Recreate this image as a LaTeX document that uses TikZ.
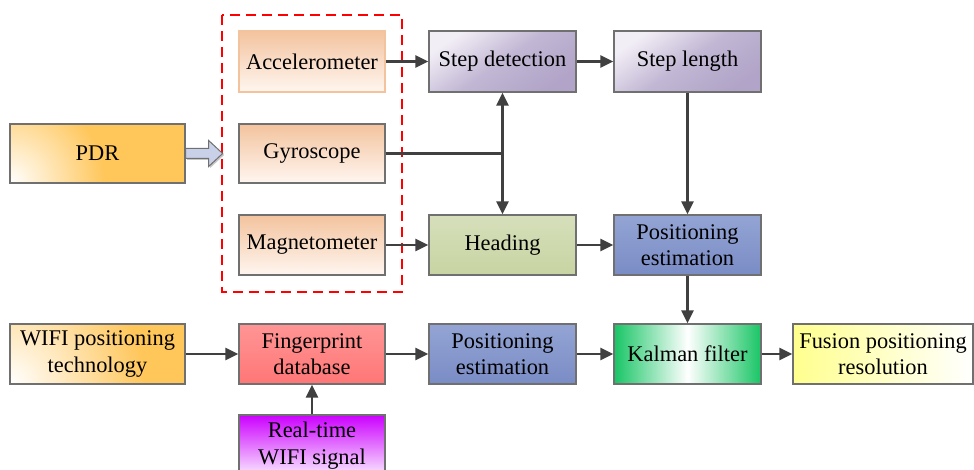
\documentclass[tikz,border=0pt]{standalone}
\usepackage{fontspec}
\setmainfont{Liberation Serif}
\usetikzlibrary{arrows.meta}
\definecolor{arr}{HTML}{404040}
\definecolor{bord}{HTML}{707070}
\definecolor{orng}{HTML}{FFC65A}
\definecolor{peach}{HTML}{F3C39E}
\definecolor{peachlt}{HTML}{FFF6F0}
\definecolor{lav}{HTML}{B1A4C8}
\definecolor{lavlt}{HTML}{F2EEF6}
\definecolor{olive}{HTML}{C8D4A2}
\definecolor{olivelt}{HTML}{D6DFBB}
\definecolor{blu}{HTML}{7A8CC5}
\definecolor{blult}{HTML}{93A4D4}
\definecolor{pinkd}{HTML}{FF7676}
\definecolor{pinkl}{HTML}{FF9595}
\definecolor{kgreen}{HTML}{18C565}
\definecolor{fyel}{HTML}{FFFF8E}
\definecolor{purp}{HTML}{CC00FF}
\definecolor{purplt}{HTML}{FAEBFF}
\definecolor{barrow}{HTML}{C9D1E8}
\tikzset{
  box/.style={draw=bord, line width=1.3pt, rectangle, inner sep=0pt, align=center,
    font=\fontsize{22.4}{26.5}\selectfont},
  cornerglow/.style={path picture={
    \fill[orng] (path picture bounding box.south west) rectangle (path picture bounding box.north east);
    \shade[inner color=white, outer color=orng] (path picture bounding box.south west) circle (#1);}},
  link/.style={draw=arr, line width=2.5pt, -{Triangle[length=13pt,width=12pt]}},
  plain/.style={draw=arr, line width=2.5pt},
}
\begin{document}
\begin{tikzpicture}[x=1pt,y=-1pt]
\useasboundingbox (0,0) rectangle (974,470);
\clip (0,0) rectangle (974,470);
\fill[white] (0,0) rectangle (974,470);

% dashed group
\draw[red, line width=2.6pt, dash pattern=on 10pt off 6pt] (222,15) rectangle (402,292);

% nodes
\node[box, minimum width=175pt, minimum height=59pt, cornerglow=95pt] (pdr) at (97.5,153.5) {PDR};
\node[box, draw=peach, minimum width=146pt, minimum height=61pt, top color=peach, bottom color=peachlt] (acc) at (312,61.5) {Accelerometer};
\node[box, minimum width=146pt, minimum height=59pt, top color=peach, bottom color=peachlt] (gyr) at (312,153.5) {Gyroscope};
\node[box, minimum width=146pt, minimum height=60pt, top color=peach, bottom color=peachlt] (mag) at (312,245) {Magnetometer};
\node[box, minimum width=147pt, minimum height=61pt, top color=lavlt, bottom color=lav, middle color=lav!75!lavlt, shading angle=35] (sd) at (502.5,61.5) {Step detection};
\node[box, minimum width=147pt, minimum height=61pt, top color=lavlt, bottom color=lav, middle color=lav!75!lavlt, shading angle=35] (sl) at (687.5,61.5) {Step length};
\node[box, minimum width=147pt, minimum height=60pt, top color=olivelt, bottom color=olive] (hd) at (502.5,245) {Heading};
\node[box, minimum width=147pt, minimum height=60pt, top color=blult, bottom color=blu] (pe1) at (687.5,245) {Positioning\\estimation};
\node[box, minimum width=175pt, minimum height=60pt, cornerglow=135pt] (wifi) at (97.5,354) {WIFI positioning\\technology};
\node[box, minimum width=146pt, minimum height=60pt, top color=pinkl, bottom color=pinkd] (fp) at (312,354) {Fingerprint\\database};
\node[box, minimum width=147pt, minimum height=60pt, top color=blult, bottom color=blu] (pe2) at (502.5,354) {Positioning\\estimation};
\node[box, minimum width=147pt, minimum height=60pt, left color=kgreen, right color=kgreen, middle color=white] (kf) at (687.5,354) {Kalman filter};
\node[box, minimum width=180pt, minimum height=60pt, left color=fyel, right color=white] (fu) at (883,354) {Fusion positioning\\resolution};
\node[box, minimum width=146pt, minimum height=61pt, top color=purp, bottom color=purplt] (rt) at (312,445.5) {Real-time\\WIFI signal};

% block arrow PDR -> group
\fill[gray!45] ([xshift=1.5pt,yshift=-1.5pt]pdr.east) ++(0,-5) -- ++(23,0) -- ++(0,-8) -- ++(14,13) -- ++(-14,13) -- ++(0,-8) -- ++(-23,0) -- cycle;
\draw[draw=bord, fill=barrow, line width=1pt] (pdr.east) ++(0,-5) -- ++(23,0) -- ++(0,-8) -- ++(14,13) -- ++(-14,13) -- ++(0,-8) -- ++(-23,0) -- cycle;

% connectors
\draw[link] (acc) -- (sd);
\draw[link] (sd) -- (sl);
\draw[link] (sl) -- (pe1);
\coordinate (j) at (sd.south |- gyr.east);
\draw[plain] (gyr.east) -- (j);
\draw[link] (j) -- (sd.south);
\draw[link] (j) -- (hd.north);
\draw[link] (mag) -- (hd);
\draw[link] (hd) -- (pe1);
\draw[link] (pe1) -- (kf);
\draw[link] (wifi) -- (fp);
\draw[link] (fp) -- (pe2);
\draw[link] (pe2) -- (kf);
\draw[link] (kf) -- (fu);
\draw[link] (rt) -- (fp);
\end{tikzpicture}
\end{document}
